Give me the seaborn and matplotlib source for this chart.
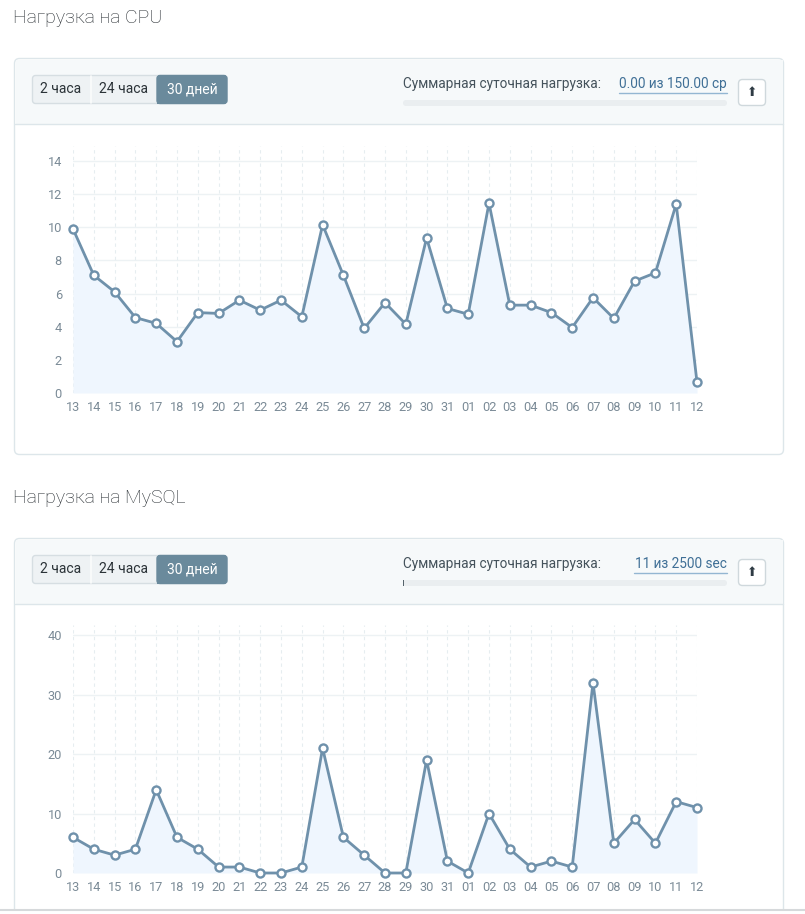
import matplotlib
matplotlib.use("Agg")
import matplotlib.pyplot as plt
from matplotlib.patches import FancyBboxPatch, Rectangle
import pandas as pd
import seaborn as sns

# data
days = ["13", "14", "15", "16", "17", "18", "19", "20", "21", "22", "23", "24", "25", "26", "27",
        "28", "29", "30", "31", "01", "02", "03", "04", "05", "06", "07", "08", "09", "10", "11", "12"]
cpu_load = [9.9, 7.1, 6.1, 4.55, 4.2, 3.1, 4.85, 4.8, 5.6, 5.0, 5.6, 4.6, 10.15, 7.1, 3.9,
            5.45, 4.15, 9.35, 5.1, 4.75, 11.45, 5.3, 5.3, 4.85, 3.95, 5.75, 4.5, 6.75, 7.25, 11.4, 0.65]
mysql_load = [6, 4, 3, 4, 14, 6, 4, 1, 1, 0, 0, 1, 21, 6, 3,
              0, 0, 19, 2, 0, 10, 4, 1, 2, 1, 32, 5, 9, 5, 12, 11]
cpu_yticks = [0, 2, 4, 6, 8, 10, 12, 14]
mysql_yticks = [0, 10, 20, 30, 40]
buttons = ["2 часа", "24 часа", "30 дней"]
panels = [
    ("Нагрузка на CPU", "0.00 из 150.00 ср", 0.0 / 150.0),
    ("Нагрузка на MySQL", "11 из 2500 sec", 11 / 2500),
]

W, H = 805, 914
LINE = "#6f91ab"
FILL = "#eff6fe"
TICK = "#7b8b97"
BORDER = "#dde6ea"

sns.set_theme(style="white")
plt.rcParams["font.family"] = ["Roboto", "DejaVu Sans"]

fig = plt.figure(figsize=(W / 100, H / 100), dpi=100)
fig.patch.set_facecolor("white")

# page layer in pixel coordinates
bg = fig.add_axes([0, 0, 1, 1], zorder=0)
bg.set_xlim(0, W)
bg.set_ylim(H, 0)
bg.axis("off")


def box(x, y, w, h, fc, ec, r=4, lw=1.0):
    bg.add_patch(FancyBboxPatch((x, y), w, h, boxstyle=f"round,pad=0,rounding_size={r}",
                                fc=fc, ec=ec, lw=lw))


card_heights = [396, 390]
for i, (title, value, frac) in enumerate(panels):
    off = i * 480
    bg.text(13, 18 + off, title, fontsize=14, fontweight="light", color="#23292e",
            va="center", ha="left")

    # card
    box(14.5, 58.5 + off, 769, card_heights[i], "white", BORDER, r=5)
    bg.add_patch(Rectangle((15.5, 59.5 + off), 767, 64, fc="#f6f9fa", ec="none"))
    bg.plot([15, 783], [123.5 + off, 123.5 + off], color=BORDER, lw=1)

    # period buttons
    box(32.5, 75.5 + off, 194, 28, "#eef2f4", "#d6dee2", r=3)
    bg.add_patch(FancyBboxPatch((157, 75.5 + off), 70, 28, boxstyle="round,pad=0,rounding_size=3",
                                fc="#6a8a9c", ec="#6a8a9c", lw=1))
    bg.add_patch(Rectangle((157, 75.5 + off), 5, 28, fc="#6a8a9c", ec="none"))
    bg.plot([90.5, 90.5], [76 + off, 103 + off], color="#fbfcfc", lw=1.2)
    for label, cx, active in zip(buttons, [61, 123.5, 192], [False, False, True]):
        bg.text(cx, 89 + off, label, fontsize=10, ha="center", va="center",
                color="white" if active else "#2b3338")

    # daily total + progress bar
    bg.text(403, 84 + off, "Суммарная суточная нагрузка:", fontsize=9.8, color="#44525b",
            ha="left", va="center")
    bg.text(727, 84 + off, value, fontsize=9.8, color="#3f6f96", ha="right", va="center")
    bg.plot([619 if i == 0 else 634, 727], [92.5 + off, 92.5 + off], color="#93b6d2", lw=1)
    box(403, 100 + off, 324, 6, "#eaeef0", "none", r=3)
    if frac > 0:
        bg.add_patch(Rectangle((403, 100 + off), max(324 * frac, 1.2), 6, fc="#55636b", ec="none"))

    # scroll-up button
    box(738.5, 79.5 + off, 27, 26, "white", "#cfd8dc", r=4)
    bg.text(752, 92.5 + off, "⬆", fontsize=9, color="#2f3b44", ha="center", va="center",
            family=["DejaVu Sans"])

# bottom edge of the screenshot
bg.plot([0, W], [909.5, 909.5], color="#d6d9db", lw=1.5)
bg.add_patch(Rectangle((0, 910.5), W, 4, fc="white", ec="none"))


def chart(bottom_px, top_px, values, yticks, ymax):
    ax = fig.add_axes([73 / W, 1 - bottom_px / H, 624 / W, (bottom_px - top_px) / H], zorder=2)
    ax.patch.set_alpha(0)
    df = pd.DataFrame({"pos": range(len(days)), "value": values})
    ax.fill_between(df["pos"], df["value"], 0, color=FILL, lw=0, zorder=1)
    sns.lineplot(data=df, x="pos", y="value", ax=ax, color=LINE, lw=2.0, marker="o",
                 markersize=5.8, markerfacecolor="white", markeredgecolor=LINE,
                 markeredgewidth=1.7, clip_on=False, zorder=3)
    ax.set_xlim(0, len(days) - 1)
    ax.set_ylim(0, ymax)
    ax.set_xticks(range(len(days)))
    ax.set_xticklabels(days)
    ax.set_yticks(yticks)
    ax.set_xlabel("")
    ax.set_ylabel("")
    for s in ax.spines.values():
        s.set_visible(False)
    ax.tick_params(length=0, labelsize=9.2, labelcolor=TICK)
    ax.tick_params(axis="y", pad=8)
    ax.tick_params(axis="x", pad=6)
    for t in yticks:
        ax.axhline(t, color="#edf2f4", lw=1, zorder=0)
    for p in range(len(days)):
        ax.axvline(p, color="#e6edf0", lw=0.8, ls=(0, (3, 3)), zorder=0)
    return ax


chart(393, 146, cpu_load, cpu_yticks, 14.9)
chart(873, 625, mysql_load, mysql_yticks, 41.7)

fig.savefig("out.png", dpi=100)
